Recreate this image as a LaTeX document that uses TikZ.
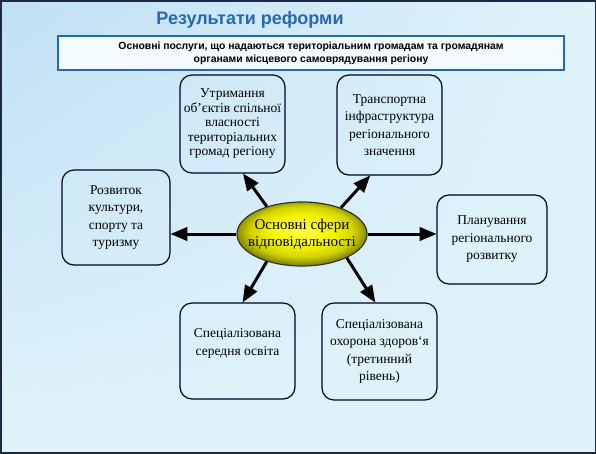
\documentclass[tikz,border=0pt]{standalone}
\usepackage{fontspec}
\setmainfont{Liberation Serif}
\setsansfont{Liberation Sans}
\usepackage{tikz}
\usetikzlibrary{arrows,shapes.geometric,shadings}
\definecolor{bgA}{RGB}{192,224,244}
\definecolor{bgB}{RGB}{224,243,250}
\definecolor{ttl}{RGB}{38,104,178}
\definecolor{frm}{RGB}{30,40,70}
\pgfdeclareradialshading{yolk}{\pgfpoint{0bp}{3bp}}{color(0bp)=(yellow!70!white); color(13bp)=(yellow!95!black); color(20bp)=(yellow!82!black); color(25bp)=(yellow!55!black); color(50bp)=(yellow!55!black)}

\begin{document}
\begin{tikzpicture}[x=1pt, y=-1pt, >=triangle 45]
\useasboundingbox (0,0) rectangle (596,453);
\shade[upper left=bgA, upper right=bgB, lower left=bgB, lower right=bgB] (0,0) rectangle (596,453);
\draw[frm, line width=3pt] (0,0) rectangle (596,453);
\tikzstyle{box} = [draw=black!85!blue, line width=1.2pt, rounded corners=12pt, align=center, font=\fontsize{13.5}{17.5}\selectfont, inner sep=1pt]
\tikzstyle{link} = [->, line width=3pt]
\node[font=\sffamily\bfseries\fontsize{18}{22}\selectfont, text=ttl] (title) at (250,20) {Результати реформи};
\node[draw=ttl, line width=1.5pt, fill=white!60!bgB, minimum width=506pt, minimum height=34pt, align=center, font=\sffamily\bfseries\fontsize{10.4}{13}\selectfont] (head) at (311,53) {Основні послуги, що надаються територіальним громадам та громадянам\\органами місцевого самоврядування регіону};
\node[box, minimum width=105pt, minimum height=98pt, font=\fontsize{13.5}{14.5}\selectfont] (hold) at (232.5,124) {Утримання\\об’єктів спільної\\власності\\територіальних\\громад регіону};
\node[box, minimum width=105pt, minimum height=100pt] (trans) at (389.5,125) {Транспортна\\інфраструктура\\регіонального\\значення};
\node[box, minimum width=108pt, minimum height=95pt] (cult) at (116,217.5) {Розвиток\\культури,\\спорту та\\туризму};
\node[box, minimum width=110pt, minimum height=89pt] (plan) at (492,239.5) {Планування\\регіонального\\розвитку};
\node[box, minimum width=115pt, minimum height=96pt] (school) at (237.5,351) {Спеціалізована\\середня освіта\\ };
\node[box, minimum width=115pt, minimum height=97pt] (health) at (379.5,351.5) {Спеціалізована\\охорона здоров`я\\(третинний\\рівень)};
\node[ellipse, draw=black!80, line width=1.2pt, shading=yolk, minimum width=130pt, minimum height=64pt, inner xsep=-13pt, inner ysep=0pt, align=center, font=\fontsize{15}{16.5}\selectfont] (core) at (302,234) {Основні сфери\\відповідальності};
\draw[link] (core.142) -- (hold.-78);
\draw[link] (core.34) -- (trans.-111);
\draw[link] (core.west) -- (core.west -| cult.east);
\draw[link] (core.east) -- (core.east -| plan.west);
\draw[link] (core.-142) -- (school.84);
\draw[link] (core.-28) -- (health.95);
\end{tikzpicture}
\end{document}
